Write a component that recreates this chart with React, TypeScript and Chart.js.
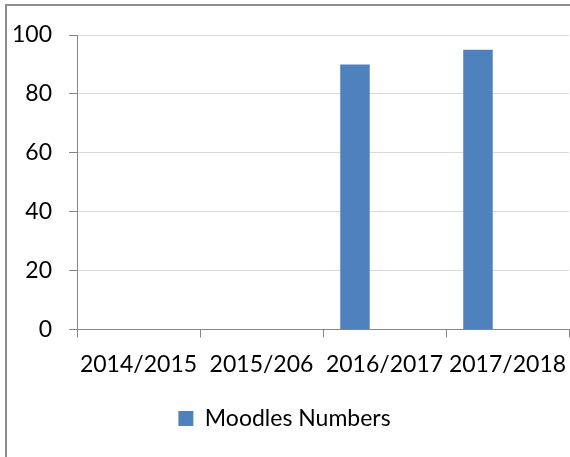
import React, { useEffect, useRef } from "react";
import { Chart, registerables } from "chart.js";

Chart.register(...registerables);

const categories = ["2014/2015", "2015/206", "2016/2017", "2017/2018"];
const moodlesNumbers = [null, null, 90, 95];
const emptySeriesA = [null, null, null, null];
const emptySeriesB = [null, null, null, null];
const yTicks = [0, 20, 40, 60, 80, 100];

const FONT = "Lato, 'Open Sans', sans-serif";

export default function App() {
  const ref = useRef<HTMLCanvasElement | null>(null);

  useEffect(() => {
    if (!ref.current) return;
    const chart = new Chart(ref.current, {
      type: "bar",
      data: {
        labels: categories,
        datasets: [
          { label: "Moodles Numbers", data: moodlesNumbers as any, backgroundColor: "#4f81bd", borderWidth: 0 },
          { label: "a", data: emptySeriesA as any, backgroundColor: "#c0504d" },
          { label: "b", data: emptySeriesB as any, backgroundColor: "#9bbb59" },
        ],
      },
      options: {
        responsive: false,
        animation: false,
        layout: { padding: { top: 35, right: 1, bottom: 17, left: 0 } },
        datasets: { bar: { categoryPercentage: 0.72, barPercentage: 1 } },
        plugins: {
          tooltip: { enabled: false },
          legend: {
            position: "bottom",
            labels: {
              filter: (item: any) => item.datasetIndex === 0,
              boxWidth: 15,
              boxHeight: 15,
              padding: 14,
              color: "#000",
              font: { family: FONT, size: 23 },
            },
          },
        },
        scales: {
          x: {
            afterFit: (s: any) => { s.height = 63.5; },
            grid: { drawOnChartArea: false, drawTicks: true, tickLength: 8, tickColor: "#868686", offset: true },
            border: { color: "#868686", width: 1 },
            ticks: { color: "#000", padding: 0, maxRotation: 0, autoSkip: false, font: { family: FONT, size: 23, lineHeight: 2.35 } },
          },
          y: {
            min: 0,
            max: 100,
            afterFit: (s: any) => { s.width = 77; },
            afterBuildTicks: (s: any) => { s.ticks = yTicks.map((v) => ({ value: v })); },
            grid: { color: "#d9d9d9", lineWidth: 1, drawTicks: true, tickLength: 8, tickColor: "#868686" },
            border: { color: "#868686", width: 1 },
            ticks: { color: "#000", padding: 17, stepSize: 20, font: { family: FONT, size: 23 } },
          },
        },
      } as any,
    });
    return () => chart.destroy();
  }, []);

  return (
    <div style={{ position: "fixed", left: 0, top: 0, width: 570, height: 457, overflow: "hidden", background: "#fff" }}>
      <div style={{ position: "absolute", left: 5, top: 4, width: 700, height: 700, border: "2px solid #8d8d8d", boxSizing: "border-box" }} />
      <canvas ref={ref} width={570} height={457} style={{ position: "absolute", left: 0, top: 0 }} />
    </div>
  );
}
